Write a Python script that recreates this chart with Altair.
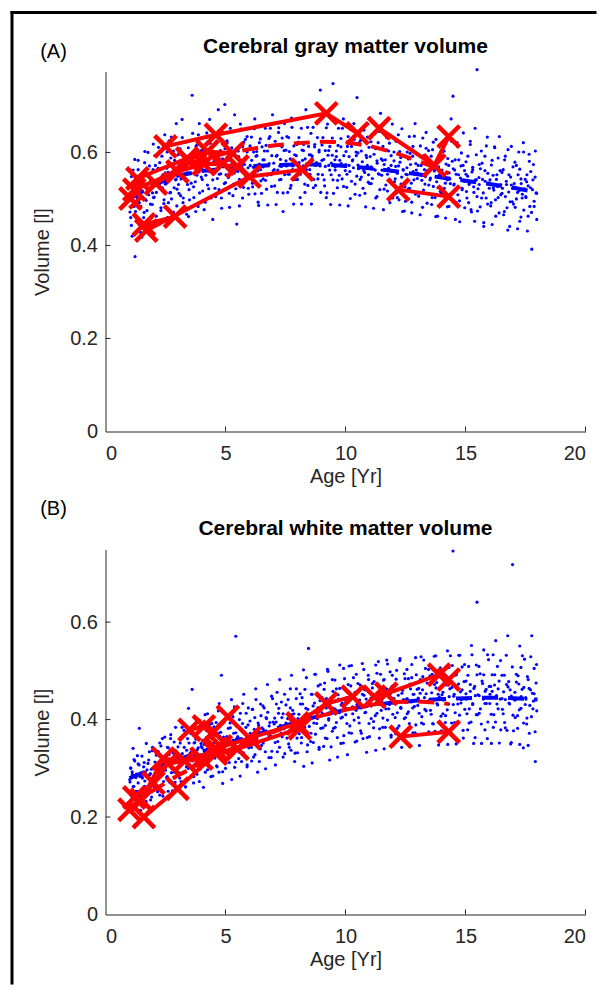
import altair as alt
import pandas as pd

# ---------------- data ----------------
# scan ages (shared by both panels) and the cross-sectional volumes, set 1
ages_rows = [
    [1.02,1.05,1.08,1.12,1.15,1.19,1.23,1.27,1.31,1.36,1.41,1.46],
    [1.52,1.56,1.61,1.64,1.69,1.73,1.78,1.83,1.87,1.92,1.96,1.99],
    [2.03,2.08,2.12,2.17,2.21,2.26,2.31,2.35,2.39,2.44,2.47,2.49],
    [2.53,2.57,2.62,2.66,2.71,2.74,2.79,2.83,2.88,2.92,2.95,2.98],
    [3.02,3.06,3.11,3.15,3.19,3.24,3.28,3.33,3.37,3.42,3.46,3.49],
    [3.53,3.57,3.61,3.63,3.68,3.72,3.77,3.81,3.86,3.91,3.95,3.98],
    [4.03,4.07,4.12,4.16,4.21,4.25,4.30,4.34,4.39,4.43,4.47],
    [4.52,4.56,4.61,4.65,4.70,4.74,4.79,4.83,4.88,4.92,4.97],
    [5.02,5.07,5.11,5.16,5.20,5.25,5.29,5.34,5.38,5.43,5.47],
    [5.53,5.58,5.62,5.67,5.71,5.76,5.80,5.85,5.90,5.95],
    [6.03,6.08,6.12,6.17,6.22,6.26,6.31,6.36,6.41,6.46],
    [6.52,6.57,6.61,6.66,6.71,6.75,6.80,6.85,6.90,6.96],
    [7.03,7.07,7.12,7.16,7.21,7.26,7.31,7.35,7.40,7.46],
    [7.52,7.56,7.61,7.66,7.70,7.75,7.80,7.85,7.90,7.95],
    [8.02,8.07,8.11,8.16,8.21,8.25,8.30,8.35,8.40,8.46],
    [8.52,8.56,8.61,8.66,8.71,8.75,8.80,8.85,8.90,8.95],
    [9.02,9.06,9.11,9.16,9.20,9.25,9.30,9.35,9.40,9.45,9.48],
    [9.53,9.57,9.62,9.66,9.71,9.76,9.81,9.86,9.91,9.96],
    [10.02,10.06,10.11,10.15,10.20,10.25,10.30,10.35,10.40,10.45,10.48],
    [10.52,10.57,10.61,10.66,10.71,10.76,10.81,10.86,10.91,10.96],
    [11.03,11.07,11.12,11.17,11.22,11.26,11.31,11.36,11.41,11.46],
    [11.52,11.56,11.61,11.66,11.71,11.75,11.80,11.85,11.90,11.95],
    [12.02,12.07,12.11,12.16,12.21,12.26,12.31,12.35,12.40,12.45],
    [12.52,12.57,12.62,12.66,12.71,12.76,12.80,12.85,12.90,12.95],
    [13.03,13.07,13.12,13.17,13.21,13.26,13.31,13.36,13.41,13.46],
    [13.52,13.57,13.61,13.66,13.71,13.76,13.81,13.86,13.91,13.96],
    [14.02,14.06,14.11,14.16,14.20,14.25,14.30,14.35,14.40,14.45,14.48],
    [14.53,14.57,14.62,14.67,14.71,14.76,14.81,14.86,14.91,14.96],
    [15.02,15.06,15.10,15.15,15.20,15.25,15.30,15.35,15.40,15.45,15.48],
    [15.52,15.57,15.61,15.66,15.71,15.76,15.81,15.86,15.91,15.96],
    [16.02,16.07,16.11,16.16,16.21,16.26,16.31,16.36,16.41,16.46],
    [16.52,16.57,16.62,16.66,16.71,16.76,16.81,16.86,16.91,16.96],
    [17.03,17.07,17.12,17.17,17.22,17.26,17.31,17.36,17.41,17.46],
    [17.52,17.56,17.61,17.66,17.71,17.76,17.81,17.86,17.91,17.96],
]

gm_rows = [
    [0.472,0.531,0.443,0.503,0.562,0.484,0.376,0.518,0.455,0.583,0.492,0.428],
    [0.418,0.553,0.471,0.602,0.497,0.446,0.534,0.571,0.489,0.462,0.513,0.618],
    [0.504,0.572,0.463,0.541,0.611,0.523,0.481,0.592,0.552,0.498,0.638,0.532],
    [0.533,0.601,0.492,0.571,0.514,0.633,0.547,0.472,0.583,0.541,0.662,0.521],
    [0.561,0.512,0.608,0.543,0.671,0.502,0.584,0.622,0.553,0.531,0.462,0.593],
    [0.587,0.534,0.723,0.641,0.503,0.572,0.613,0.551,0.484,0.662,0.563,0.604],
    [0.542,0.613,0.574,0.493,0.632,0.583,0.522,0.671,0.561,0.602,0.456],
    [0.581,0.523,0.621,0.562,0.692,0.553,0.604,0.502,0.643,0.571,0.703],
    [0.552,0.621,0.583,0.512,0.652,0.574,0.603,0.532,0.681,0.561,0.446],
    [0.603,0.542,0.661,0.574,0.502,0.622,0.583,0.551,0.634,0.523],
    [0.572,0.633,0.534,0.601,0.672,0.552,0.593,0.493,0.621,0.563],
    [0.612,0.543,0.584,0.652,0.521,0.603,0.572,0.634,0.552,0.681],
    [0.563,0.624,0.592,0.514,0.643,0.571,0.542,0.612,0.473,0.662],
    [0.582,0.634,0.553,0.602,0.523,0.674,0.571,0.614,0.542,0.593],
    [0.622,0.561,0.503,0.652,0.583,0.604,0.532,0.692,0.574,0.613],
    [0.553,0.641,0.592,0.524,0.612,0.572,0.663,0.543,0.601,0.734],
    [0.583,0.632,0.541,0.604,0.503,0.661,0.572,0.613,0.552,0.594,0.748],
    [0.623,0.562,0.591,0.524,0.652,0.583,0.612,0.543,0.672,0.571],
    [0.602,0.553,0.634,0.572,0.501,0.613,0.584,0.662,0.532,0.593,0.718],
    [0.573,0.621,0.542,0.603,0.652,0.561,0.512,0.594,0.633,0.552],
    [0.591,0.533,0.612,0.564,0.643,0.502,0.582,0.621,0.553,0.684],
    [0.562,0.613,0.521,0.584,0.632,0.553,0.603,0.492,0.572,0.661],
    [0.582,0.543,0.624,0.503,0.571,0.602,0.532,0.651,0.563,0.474],
    [0.553,0.601,0.522,0.634,0.574,0.493,0.592,0.541,0.662,0.562],
    [0.572,0.513,0.614,0.551,0.482,0.593,0.532,0.643,0.561,0.604],
    [0.541,0.592,0.503,0.622,0.563,0.462,0.581,0.524,0.652,0.553],
    [0.562,0.512,0.603,0.534,0.631,0.483,0.572,0.543,0.672,0.581,0.721],
    [0.532,0.584,0.492,0.613,0.552,0.451,0.571,0.523,0.642,0.561],
    [0.553,0.502,0.592,0.531,0.624,0.472,0.563,0.514,0.652,0.541,0.778],
    [0.522,0.574,0.483,0.603,0.542,0.441,0.561,0.502,0.633,0.534],
    [0.541,0.492,0.583,0.524,0.612,0.463,0.552,0.503,0.634,0.531],
    [0.512,0.563,0.473,0.592,0.531,0.433,0.552,0.494,0.613,0.523],
    [0.533,0.482,0.572,0.514,0.601,0.452,0.543,0.502,0.621,0.522],
    [0.503,0.552,0.463,0.581,0.524,0.392,0.541,0.484,0.603,0.512],
]

wm_rows = [
    [0.272,0.301,0.243,0.288,0.262,0.318,0.224,0.281,0.253,0.309,0.382,0.214],
    [0.283,0.251,0.312,0.274,0.232,0.297,0.263,0.334,0.289,0.241,0.343,0.278],
    [0.302,0.271,0.331,0.252,0.293,0.352,0.284,0.313,0.243,0.322,0.364,0.296],
    [0.311,0.283,0.342,0.272,0.361,0.302,0.254,0.331,0.292,0.384,0.316,0.301],
    [0.322,0.291,0.352,0.273,0.384,0.312,0.343,0.262,0.303,0.361,0.423,0.318],
    [0.331,0.302,0.462,0.372,0.283,0.353,0.404,0.314,0.342,0.273,0.327,0.351],
    [0.342,0.313,0.381,0.292,0.363,0.412,0.323,0.354,0.283,0.392,0.337],
    [0.352,0.321,0.394,0.303,0.372,0.433,0.332,0.491,0.293,0.364,0.346],
    [0.353,0.332,0.402,0.312,0.383,0.441,0.343,0.372,0.302,0.571,0.361],
    [0.362,0.333,0.413,0.314,0.392,0.452,0.353,0.384,0.303,0.424],
    [0.372,0.343,0.421,0.323,0.404,0.463,0.362,0.393,0.314,0.432],
    [0.383,0.352,0.424,0.334,0.402,0.472,0.363,0.394,0.322,0.443],
    [0.391,0.353,0.432,0.334,0.413,0.482,0.372,0.404,0.323,0.452],
    [0.393,0.362,0.441,0.343,0.424,0.491,0.383,0.412,0.331,0.463],
    [0.402,0.371,0.453,0.352,0.432,0.502,0.384,0.423,0.334,0.546],
    [0.412,0.372,0.452,0.353,0.434,0.493,0.392,0.424,0.343,0.472],
    [0.414,0.383,0.462,0.362,0.443,0.503,0.402,0.433,0.344,0.482,0.423],
    [0.422,0.384,0.463,0.363,0.442,0.512,0.403,0.434,0.352,0.484],
    [0.423,0.392,0.472,0.373,0.453,0.511,0.412,0.443,0.354,0.493,0.431],
    [0.432,0.393,0.471,0.372,0.452,0.503,0.414,0.442,0.363,0.482],
    [0.433,0.402,0.474,0.383,0.451,0.512,0.413,0.444,0.362,0.493],
    [0.442,0.403,0.482,0.384,0.463,0.514,0.422,0.452,0.364,0.491],
    [0.443,0.404,0.483,0.382,0.462,0.521,0.423,0.454,0.372,0.494],
    [0.441,0.412,0.484,0.392,0.463,0.513,0.424,0.452,0.373,0.492],
    [0.444,0.413,0.482,0.393,0.461,0.522,0.421,0.453,0.371,0.503],
    [0.442,0.411,0.493,0.391,0.472,0.531,0.433,0.452,0.374,0.502],
    [0.451,0.412,0.492,0.394,0.471,0.541,0.432,0.463,0.372,0.511,0.746],
    [0.452,0.414,0.493,0.392,0.473,0.532,0.434,0.461,0.362,0.513],
    [0.453,0.412,0.491,0.393,0.472,0.552,0.431,0.464,0.363,0.512,0.641],
    [0.451,0.413,0.494,0.391,0.474,0.543,0.433,0.462,0.361,0.523],
    [0.452,0.411,0.492,0.384,0.471,0.562,0.432,0.463,0.352,0.521],
    [0.443,0.412,0.491,0.383,0.472,0.572,0.434,0.461,0.353,0.718],
    [0.441,0.404,0.493,0.382,0.473,0.551,0.423,0.462,0.342,0.524],
    [0.442,0.403,0.482,0.372,0.461,0.572,0.422,0.453,0.314,0.513],
]

# set 2 of scans
ages2_rows = [
    [1.01,1.05,1.08,1.11,1.15,1.18,1.22,1.25,1.29,1.33,1.36,1.40,1.44,1.47],
    [1.52,1.54,1.59,1.63,1.66,1.70,1.73,1.77,1.80,1.84,1.88,1.91,1.95,1.98],
    [2.00,2.06,2.07,2.12,2.17,2.19,2.24,2.26,2.31,2.32,2.37,2.42,2.43,2.49],
    [2.51,2.55,2.58,2.61,2.65,2.68,2.72,2.75,2.79,2.83,2.86,2.90,2.94,2.97],
    [3.02,3.04,3.09,3.13,3.16,3.20,3.23,3.27,3.30,3.34,3.38,3.41,3.45,3.48],
    [3.50,3.56,3.57,3.62,3.67,3.69,3.74,3.76,3.81,3.82,3.87,3.92,3.93,3.99],
    [4.01,4.05,4.08,4.11,4.15,4.18,4.22,4.25,4.29,4.33,4.36,4.40,4.44,4.47],
    [4.52,4.54,4.59,4.63,4.66,4.70,4.73,4.77,4.80,4.84,4.88,4.91,4.95,4.98],
    [5.00,5.06,5.07,5.12,5.17,5.19,5.24,5.26,5.31,5.32,5.37,5.42,5.43,5.49],
    [5.51,5.55,5.58,5.61,5.65,5.68,5.72,5.75,5.79,5.83,5.86,5.90,5.94,5.97],
    [6.02,6.04,6.09,6.13,6.16,6.20,6.23,6.27,6.30,6.34,6.38,6.41,6.45,6.48],
    [6.50,6.56,6.57,6.62,6.67,6.69,6.74,6.76,6.81,6.82,6.87,6.92,6.93,6.99],
    [7.01,7.05,7.08,7.11,7.15,7.18,7.22,7.25,7.29,7.33,7.36,7.40,7.44,7.47],
    [7.52,7.54,7.59,7.63,7.66,7.70,7.73,7.77,7.80,7.84,7.88,7.91,7.95,7.98],
    [8.00,8.06,8.07,8.12,8.17,8.19,8.24,8.26,8.31,8.32,8.37,8.42,8.43,8.49],
    [8.51,8.55,8.58,8.61,8.65,8.68,8.72,8.75,8.79,8.83,8.86,8.90,8.94,8.97],
    [9.02,9.04,9.09,9.13,9.16,9.20,9.23,9.27,9.30,9.34,9.38,9.41,9.45,9.48],
    [9.50,9.56,9.57,9.62,9.67,9.69,9.74,9.76,9.81,9.82,9.87,9.92,9.93,9.99],
    [10.01,10.05,10.08,10.11,10.15,10.18,10.22,10.25,10.29,10.33,10.36,10.40,10.44,10.47],
    [10.52,10.54,10.59,10.63,10.66,10.70,10.73,10.77,10.80,10.84,10.88,10.91,10.95,10.98],
    [11.00,11.06,11.07,11.12,11.17,11.19,11.24,11.26,11.31,11.32,11.37,11.42,11.43,11.49],
    [11.51,11.55,11.58,11.61,11.65,11.68,11.72,11.75,11.79,11.83,11.86,11.90,11.94,11.97],
    [12.02,12.04,12.09,12.13,12.16,12.20,12.23,12.27,12.30,12.34,12.38,12.41,12.45,12.48],
    [12.50,12.56,12.57,12.62,12.67,12.69,12.74,12.76,12.81,12.82,12.87,12.92,12.93,12.99],
    [13.01,13.05,13.08,13.11,13.15,13.18,13.22,13.25,13.29,13.33,13.36,13.40,13.44,13.47],
    [13.52,13.54,13.59,13.63,13.66,13.70,13.73,13.77,13.80,13.84,13.88,13.91,13.95,13.98],
    [14.00,14.06,14.07,14.12,14.17,14.19,14.24,14.26,14.31,14.32,14.37,14.42,14.43,14.49],
    [14.51,14.55,14.58,14.61,14.65,14.68,14.72,14.75,14.79,14.83,14.86,14.90,14.94,14.97],
    [15.02,15.04,15.09,15.13,15.16,15.20,15.23,15.27,15.30,15.34,15.38,15.41,15.45,15.48],
    [15.50,15.56,15.57,15.62,15.67,15.69,15.74,15.76,15.81,15.82,15.87,15.92,15.93,15.99],
    [16.01,16.05,16.08,16.11,16.15,16.18,16.22,16.25,16.29,16.33,16.36,16.40,16.44,16.47],
    [16.52,16.54,16.59,16.63,16.66,16.70,16.73,16.77,16.80,16.84,16.88,16.91,16.95,16.98],
    [17.00,17.06,17.07,17.12,17.17,17.19,17.24,17.26,17.31,17.32,17.37,17.42,17.43,17.49],
    [17.51,17.55,17.58,17.61,17.65,17.68,17.72,17.75,17.79,17.83,17.86,17.90,17.94,17.97],
]

gm2_rows = [
    [0.509,0.460,0.548,0.420,0.526,0.494,0.585,0.473,0.517,0.502,0.563,0.445,0.536,0.484],
    [0.551,0.517,0.460,0.578,0.499,0.532,0.475,0.600,0.509,0.435,0.541,0.524,0.488,0.563],
    [0.503,0.593,0.539,0.514,0.450,0.566,0.532,0.578,0.475,0.547,0.524,0.615,0.490,0.556],
    [0.534,0.566,0.460,0.557,0.625,0.513,0.588,0.500,0.549,0.603,0.524,0.576,0.542,0.485],
    [0.595,0.531,0.564,0.507,0.549,0.632,0.492,0.573,0.583,0.541,0.467,0.556,0.610,0.520],
    [0.498,0.570,0.555,0.589,0.526,0.601,0.537,0.473,0.616,0.562,0.638,0.513,0.579,0.547],
    [0.566,0.517,0.605,0.477,0.583,0.551,0.642,0.530,0.574,0.559,0.620,0.502,0.593,0.541],
    [0.596,0.562,0.505,0.623,0.544,0.577,0.520,0.645,0.554,0.480,0.586,0.569,0.533,0.608],
    [0.535,0.625,0.571,0.546,0.482,0.598,0.564,0.610,0.507,0.579,0.556,0.647,0.522,0.588],
    [0.559,0.591,0.485,0.582,0.650,0.538,0.613,0.525,0.574,0.628,0.549,0.601,0.567,0.510],
    [0.614,0.550,0.583,0.526,0.568,0.651,0.511,0.592,0.602,0.560,0.486,0.575,0.629,0.539],
    [0.512,0.584,0.569,0.603,0.540,0.615,0.551,0.487,0.630,0.576,0.652,0.527,0.593,0.561],
    [0.577,0.528,0.616,0.488,0.594,0.562,0.653,0.541,0.585,0.570,0.631,0.513,0.604,0.552],
    [0.605,0.571,0.514,0.632,0.553,0.586,0.529,0.654,0.563,0.489,0.595,0.578,0.542,0.617],
    [0.542,0.632,0.578,0.553,0.489,0.605,0.571,0.617,0.514,0.586,0.563,0.654,0.529,0.595],
    [0.563,0.595,0.489,0.586,0.654,0.542,0.617,0.529,0.578,0.632,0.553,0.605,0.571,0.514],
    [0.616,0.552,0.585,0.528,0.570,0.653,0.513,0.594,0.604,0.562,0.488,0.577,0.631,0.541],
    [0.512,0.584,0.569,0.603,0.540,0.615,0.551,0.487,0.630,0.576,0.652,0.527,0.593,0.561],
    [0.574,0.525,0.613,0.485,0.591,0.559,0.650,0.538,0.582,0.567,0.628,0.510,0.601,0.549],
    [0.599,0.565,0.508,0.626,0.547,0.580,0.523,0.648,0.557,0.483,0.589,0.572,0.536,0.611],
    [0.533,0.623,0.569,0.544,0.480,0.596,0.562,0.608,0.505,0.577,0.554,0.645,0.520,0.586],
    [0.551,0.583,0.477,0.574,0.642,0.530,0.605,0.517,0.566,0.620,0.541,0.593,0.559,0.502],
    [0.601,0.537,0.570,0.513,0.555,0.638,0.498,0.579,0.589,0.547,0.473,0.562,0.616,0.526],
    [0.495,0.567,0.552,0.586,0.523,0.598,0.534,0.470,0.613,0.559,0.635,0.510,0.576,0.544],
    [0.555,0.506,0.594,0.466,0.572,0.540,0.631,0.519,0.563,0.548,0.609,0.491,0.582,0.530],
    [0.579,0.545,0.488,0.606,0.527,0.560,0.503,0.628,0.537,0.463,0.569,0.552,0.516,0.591],
    [0.512,0.602,0.548,0.523,0.459,0.575,0.541,0.587,0.484,0.556,0.533,0.624,0.499,0.565],
    [0.530,0.562,0.456,0.553,0.621,0.509,0.584,0.496,0.545,0.599,0.520,0.572,0.538,0.481],
    [0.580,0.516,0.549,0.492,0.534,0.617,0.477,0.558,0.568,0.526,0.452,0.541,0.595,0.505],
    [0.474,0.546,0.531,0.565,0.502,0.577,0.513,0.449,0.592,0.538,0.614,0.489,0.555,0.523],
    [0.534,0.485,0.573,0.445,0.551,0.519,0.610,0.498,0.542,0.527,0.588,0.470,0.561,0.509],
    [0.557,0.523,0.466,0.584,0.505,0.538,0.481,0.606,0.515,0.441,0.547,0.530,0.494,0.569],
    [0.489,0.579,0.525,0.500,0.436,0.552,0.518,0.564,0.461,0.533,0.510,0.601,0.476,0.542],
    [0.505,0.537,0.431,0.528,0.596,0.484,0.559,0.471,0.520,0.574,0.495,0.547,0.513,0.456],
]

wm2_rows = [
    [0.277,0.300,0.225,0.293,0.341,0.263,0.315,0.253,0.288,0.326,0.270,0.307,0.283,0.243],
    [0.325,0.280,0.303,0.263,0.293,0.351,0.253,0.310,0.317,0.287,0.235,0.298,0.336,0.273],
    [0.263,0.313,0.303,0.327,0.283,0.335,0.290,0.245,0.346,0.308,0.361,0.273,0.320,0.297],
    [0.316,0.281,0.343,0.253,0.328,0.305,0.369,0.291,0.321,0.311,0.354,0.271,0.335,0.298],
    [0.344,0.320,0.280,0.363,0.307,0.330,0.290,0.378,0.314,0.262,0.337,0.325,0.300,0.352],
    [0.308,0.371,0.333,0.315,0.270,0.352,0.328,0.360,0.288,0.338,0.322,0.386,0.298,0.345],
    [0.328,0.357,0.261,0.349,0.410,0.309,0.377,0.297,0.342,0.390,0.319,0.366,0.335,0.284],
    [0.385,0.327,0.357,0.305,0.343,0.418,0.292,0.365,0.374,0.336,0.269,0.350,0.398,0.317],
    [0.300,0.365,0.351,0.382,0.325,0.393,0.335,0.277,0.406,0.358,0.426,0.313,0.373,0.344],
    [0.365,0.320,0.400,0.284,0.380,0.351,0.433,0.332,0.372,0.358,0.413,0.307,0.389,0.342],
    [0.397,0.366,0.315,0.421,0.350,0.380,0.328,0.441,0.359,0.292,0.388,0.373,0.340,0.408],
    [0.347,0.428,0.380,0.357,0.299,0.404,0.373,0.415,0.322,0.387,0.366,0.448,0.335,0.395],
    [0.374,0.403,0.307,0.395,0.456,0.355,0.423,0.343,0.388,0.436,0.365,0.412,0.381,0.330],
    [0.430,0.372,0.402,0.350,0.388,0.463,0.337,0.410,0.419,0.381,0.314,0.395,0.443,0.362],
    [0.332,0.411,0.395,0.432,0.363,0.445,0.375,0.304,0.462,0.402,0.486,0.348,0.421,0.386],
    [0.409,0.355,0.452,0.311,0.428,0.393,0.493,0.370,0.418,0.402,0.469,0.339,0.439,0.382],
    [0.445,0.408,0.345,0.475,0.388,0.424,0.361,0.499,0.399,0.317,0.434,0.415,0.376,0.458],
    [0.382,0.481,0.421,0.394,0.323,0.451,0.414,0.464,0.351,0.430,0.405,0.505,0.367,0.440],
    [0.410,0.445,0.328,0.435,0.510,0.387,0.469,0.372,0.426,0.486,0.399,0.456,0.419,0.356],
    [0.474,0.404,0.440,0.377,0.424,0.515,0.361,0.450,0.461,0.415,0.333,0.431,0.491,0.392],
    [0.365,0.444,0.428,0.465,0.396,0.478,0.408,0.337,0.495,0.435,0.519,0.381,0.454,0.419],
    [0.438,0.384,0.481,0.340,0.457,0.422,0.522,0.399,0.447,0.431,0.498,0.368,0.468,0.411],
    [0.471,0.434,0.371,0.501,0.414,0.450,0.387,0.525,0.425,0.343,0.460,0.441,0.402,0.484],
    [0.404,0.503,0.443,0.416,0.345,0.473,0.436,0.486,0.373,0.452,0.427,0.527,0.389,0.462],
    [0.429,0.464,0.347,0.454,0.529,0.406,0.488,0.391,0.445,0.505,0.418,0.475,0.438,0.375],
    [0.489,0.419,0.455,0.392,0.439,0.530,0.376,0.465,0.476,0.430,0.348,0.446,0.506,0.407],
    [0.377,0.456,0.440,0.477,0.408,0.490,0.420,0.349,0.507,0.447,0.531,0.393,0.466,0.431],
    [0.448,0.394,0.491,0.350,0.467,0.432,0.532,0.409,0.457,0.441,0.508,0.378,0.478,0.421],
    [0.479,0.442,0.379,0.509,0.422,0.458,0.395,0.533,0.433,0.351,0.468,0.449,0.410,0.492],
    [0.410,0.509,0.449,0.422,0.351,0.479,0.442,0.492,0.379,0.458,0.433,0.533,0.395,0.468],
    [0.433,0.468,0.351,0.458,0.533,0.410,0.492,0.395,0.449,0.509,0.422,0.479,0.442,0.379],
    [0.491,0.421,0.457,0.394,0.441,0.532,0.378,0.467,0.478,0.432,0.350,0.448,0.508,0.409],
    [0.377,0.456,0.440,0.477,0.408,0.490,0.420,0.349,0.507,0.447,0.531,0.393,0.466,0.431],
    [0.445,0.391,0.488,0.347,0.464,0.429,0.529,0.406,0.454,0.438,0.505,0.375,0.475,0.418],
]

# cross-sectional mean curves (blue dashed)
mean_age = [1, 2, 3, 4, 5, 6, 7, 8, 9, 10, 11, 12, 13, 14, 15, 16, 17, 18]
gm_mean = [0.500, 0.530, 0.550, 0.560, 0.565, 0.570, 0.573, 0.574, 0.574, 0.571,
           0.566, 0.560, 0.553, 0.546, 0.539, 0.532, 0.524, 0.514]
wm_mean = [0.280, 0.300, 0.318, 0.334, 0.350, 0.365, 0.380, 0.395, 0.409, 0.420,
           0.429, 0.435, 0.439, 0.442, 0.444, 0.445, 0.444, 0.441]

# longitudinal mean curves (red dashed)
long_age = [1, 2, 3, 4, 5, 6, 7, 8, 9, 10, 11, 12, 13, 14, 14.3]
gm_long = [0.480, 0.530, 0.565, 0.585, 0.598, 0.607, 0.615, 0.620, 0.623, 0.622,
           0.614, 0.600, 0.582, 0.562, 0.555]
wm_long = [0.220, 0.255, 0.285, 0.310, 0.335, 0.355, 0.375, 0.392, 0.408, 0.420,
           0.430, 0.436, 0.437, 0.434, 0.432]

# longitudinal subjects (red X + solid lines)
gm_subjects = {
    "s1": [(2.5, 0.613), (4.6, 0.638), (9.2, 0.684), (10.5, 0.641)],
    "s2": [(11.4, 0.652), (13.7, 0.572), (14.3, 0.634)],
    "s3": [(12.2, 0.520), (14.3, 0.505)],
    "s4": [(1.7, 0.432), (6.0, 0.548), (8.2, 0.563)],
    "s5": [(1.6, 0.445), (2.9, 0.462)],
    "s6": [(1.04, 0.501), (1.33, 0.544), (3.4, 0.587), (4.25, 0.602), (5.3, 0.598)],
    "s7": [(1.2, 0.520), (3.0, 0.559), (4.1, 0.575), (4.9, 0.576)],
    "s8": [(2.1, 0.533), (3.5, 0.580), (5.5, 0.570)],
}
wm_subjects = {
    "w1": [(1.0, 0.215), (1.5, 0.235), (2.4, 0.320), (3.3, 0.315), (4.6, 0.335)],
    "w2": [(4.6, 0.340), (6.0, 0.362), (8.0, 0.392), (9.2, 0.433), (10.3, 0.447)],
    "w3": [(11.2, 0.447), (11.7, 0.453), (13.9, 0.492), (14.3, 0.482)],
    "w4": [(12.3, 0.365), (14.3, 0.375)],
    "w5": [(1.6, 0.200), (3.0, 0.258), (4.6, 0.330), (5.5, 0.340), (8.1, 0.382)],
    "w6": [(3.5, 0.379), (4.1, 0.386), (4.5, 0.375), (5.1, 0.406)],
    "w7": [(1.2, 0.240), (2.0, 0.270), (2.6, 0.310), (4.0, 0.320), (4.8, 0.345)],
}

x_ticks = [0, 5, 10, 15, 20]
y_ticks = [0, 0.2, 0.4, 0.6]

FONT = "Liberation Sans"
BLUE = "#0000ff"
RED = "#ff0000"
AXC = "#262626"
XSHAPE = "M-1,-1L1,1M-1,1L1,-1"


def scatter_df(row_sets):
    a, v = [], []
    for arows, vrows in row_sets:
        for ra, rv in zip(arows, vrows):
            for x, y in zip(ra, rv):
                a.append(x)
                v.append(y)
    return pd.DataFrame({"age": a, "vol": v})


def subj_df(subjects):
    recs = []
    for sid, pts in subjects.items():
        for k, (x, y) in enumerate(pts):
            recs.append({"sid": sid, "age": x, "vol": y, "ord": k})
    return pd.DataFrame(recs)


def panel(title, letter, row_sets, mean_v, long_v, subjects, ymax, height,
          title_y, letter_y, frame):
    width = 480
    xs = alt.Scale(domain=[0, 20], nice=False, zero=False)
    ys = alt.Scale(domain=[0, ymax], nice=False, zero=False)
    xaxis = alt.Axis(title="Age [Yr]", values=x_ticks, ticks=False, grid=False,
                     labelPadding=12, titlePadding=3)
    yaxis = alt.Axis(title="Volume [l]", values=y_ticks, ticks=False, grid=False,
                     format="~g", labelPadding=8, titlePadding=17)
    X = alt.X("age:Q", scale=xs, axis=xaxis)
    Y = alt.Y("vol:Q", scale=ys, axis=yaxis)

    pts = alt.Chart(scatter_df(row_sets)).mark_circle(size=10, color=BLUE, opacity=1).encode(x=X, y=Y)
    mean = alt.Chart(pd.DataFrame({"age": mean_age, "vol": mean_v})).mark_line(
        color=BLUE, strokeWidth=4, strokeDash=[16, 10]).encode(x=X, y=Y)
    sdf = subj_df(subjects)
    slines = alt.Chart(sdf).mark_line(color=RED, strokeWidth=4).encode(
        x=X, y=Y, detail="sid:N", order="ord:Q")
    sx = alt.Chart(sdf).mark_point(shape=XSHAPE, size=470, color=RED, strokeWidth=4.5,
                                   filled=False, opacity=1).encode(x=X, y=Y)
    longl = alt.Chart(pd.DataFrame({"age": long_age, "vol": long_v})).mark_line(
        color=RED, strokeWidth=4, strokeDash=[16, 10]).encode(x=X, y=Y)

    xt = alt.Chart(pd.DataFrame({"age": x_ticks[1:]})).mark_rule(color=AXC, strokeWidth=1).encode(
        x=X, y=alt.value(height), y2=alt.value(height - 5))
    yt = alt.Chart(pd.DataFrame({"vol": y_ticks[1:]})).mark_rule(color=AXC, strokeWidth=1).encode(
        y=Y, x=alt.value(0), x2=alt.value(5))

    one = pd.DataFrame({"k": [0]})
    lab = alt.Chart(one).mark_text(text=letter, font=FONT, fontSize=20, color="black",
                                   align="center", baseline="middle").encode(
        x=alt.value(-52), y=alt.value(letter_y))
    ttl = alt.Chart(one).mark_text(text=title, font=FONT, fontSize=21, fontWeight="bold",
                                   color="black", align="center", baseline="middle").encode(
        x=alt.value(width / 2), y=alt.value(title_y))

    layers = [pts, mean, slines, sx, longl, xt, yt, lab, ttl]
    if frame:
        fl = alt.Chart(one).mark_rule(color="black", strokeWidth=3).encode(
            x=alt.value(-93.5), y=alt.value(-60.5), y2=alt.value(913))
        ft = alt.Chart(one).mark_rule(color="black", strokeWidth=3).encode(
            x=alt.value(-95), x2=alt.value(491), y=alt.value(-59))
        layers = [fl, ft] + layers

    return alt.layer(*layers).properties(width=width, height=height)


pa = panel("Cerebral gray matter volume", "(A)",
           [(ages_rows, gm_rows), (ages2_rows, gm2_rows)],
           gm_mean, gm_long, gm_subjects, 0.774, 360, -25, -20, True)
pb = panel("Cerebral white matter volume", "(B)",
           [(ages_rows, wm_rows), (ages2_rows, wm2_rows)],
           wm_mean, wm_long, wm_subjects, 0.749, 365, -21, -41, False)

chart = alt.vconcat(pa, pb, spacing=118, bounds="flush").properties(
    padding={"left": 0.5, "top": 1.5, "right": 0, "bottom": 0}
).configure_view(stroke=None).configure_axis(
    labelFont=FONT, titleFont=FONT, labelFontSize=20, titleFontSize=20,
    labelColor=AXC, titleColor=AXC, domainColor=AXC, domainWidth=1,
    titleFontWeight="normal",
)

chart.save("out.html", embed_options={"renderer": "svg", "actions": False})
